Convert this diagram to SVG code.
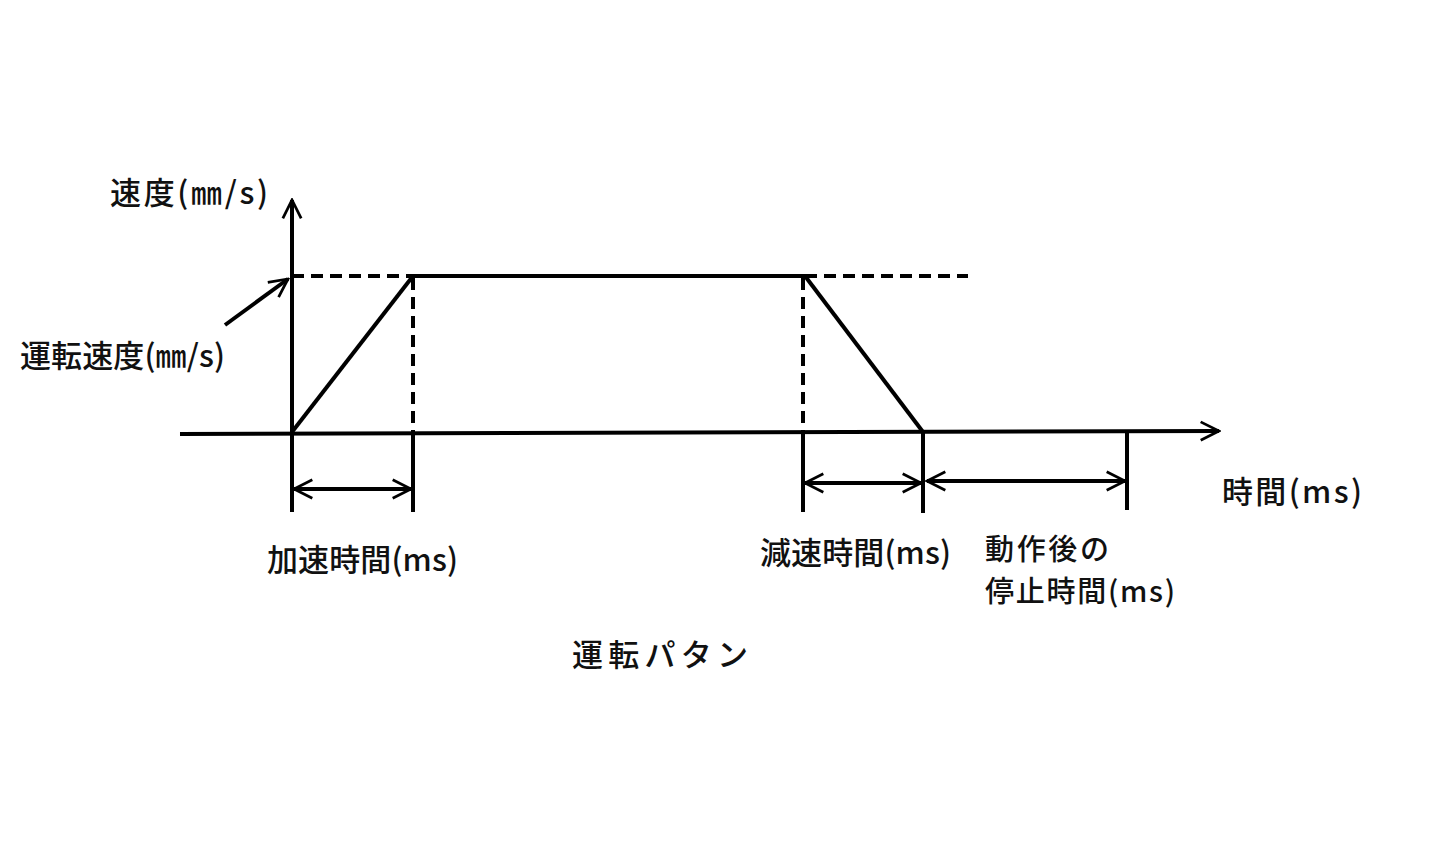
<svg xmlns="http://www.w3.org/2000/svg" width="1452" height="850" viewBox="0 0 1452 850">
<style>
text{font-family:"Noto Sans CJK JP","Noto Sans",sans-serif;font-size:31px;font-weight:500;fill:#111}
.sm{font-size:29px}
.s{stroke:#000;stroke-width:4;fill:none}
.d{stroke:#000;stroke-width:4;fill:none;stroke-dasharray:12,7}
</style>
<defs>
<marker id="ch" viewBox="0 0 12 12" refX="11" refY="6" markerWidth="5.5" markerHeight="5.5" markerUnits="strokeWidth" orient="auto-start-reverse">
<path d="M1,1 L11,6 L1,11" fill="none" stroke="#000" stroke-width="1.5"/>
</marker>
</defs>
<rect width="1452" height="850" fill="#fff"/>
<g id="connectors">
<line class="s" x1="180" y1="434" x2="1219" y2="431" marker-end="url(#ch)"/>
<line class="s" x1="292" y1="512" x2="292" y2="200" marker-end="url(#ch)"/>
<line class="d" x1="292" y1="276" x2="413" y2="276"/>
<line class="s" x1="413" y1="276" x2="805" y2="276"/>
<line class="d" x1="805" y1="276" x2="968" y2="276"/>
<line class="s" x1="292" y1="432" x2="413" y2="276"/>
<line class="s" x1="805" y1="276" x2="923" y2="432"/>
<line class="d" x1="413" y1="278" x2="413" y2="432"/>
<line class="s" x1="413" y1="432" x2="413" y2="512"/>
<line class="d" x1="803" y1="278" x2="803" y2="432"/>
<line class="s" x1="803" y1="432" x2="803" y2="512"/>
<line class="s" x1="923" y1="432" x2="923" y2="513"/>
<line class="s" x1="1127" y1="432" x2="1127" y2="510"/>
<line class="s" x1="294" y1="489" x2="411" y2="489" marker-start="url(#ch)" marker-end="url(#ch)"/>
<line class="s" x1="805" y1="483" x2="921" y2="483" marker-start="url(#ch)" marker-end="url(#ch)"/>
<line class="s" x1="927" y1="481" x2="1125" y2="481" marker-start="url(#ch)" marker-end="url(#ch)"/>
<line class="s" x1="225" y1="325" x2="288" y2="279" marker-end="url(#ch)"/>
</g>
<g id="label-vaxis"><text x="110" y="204" textLength="158">速度(㎜/s)</text></g>
<g id="label-speed"><text x="20" y="367" textLength="205">運転速度(㎜/s)</text></g>
<g id="label-accel"><text x="267" y="571" textLength="191">加速時間(ms)</text></g>
<g id="label-decel"><text x="760" y="564" textLength="191">減速時間(ms)</text></g>
<g id="label-stop"><text class="sm" x="985" y="560" textLength="124">動作後の</text><text class="sm" x="985" y="602" textLength="190">停止時間(ms)</text></g>
<g id="label-haxis"><text x="1222" y="503" textLength="140">時間(ms)</text></g>
<g id="title"><text x="572" y="666" textLength="176">運転パタン</text></g>
</svg>
